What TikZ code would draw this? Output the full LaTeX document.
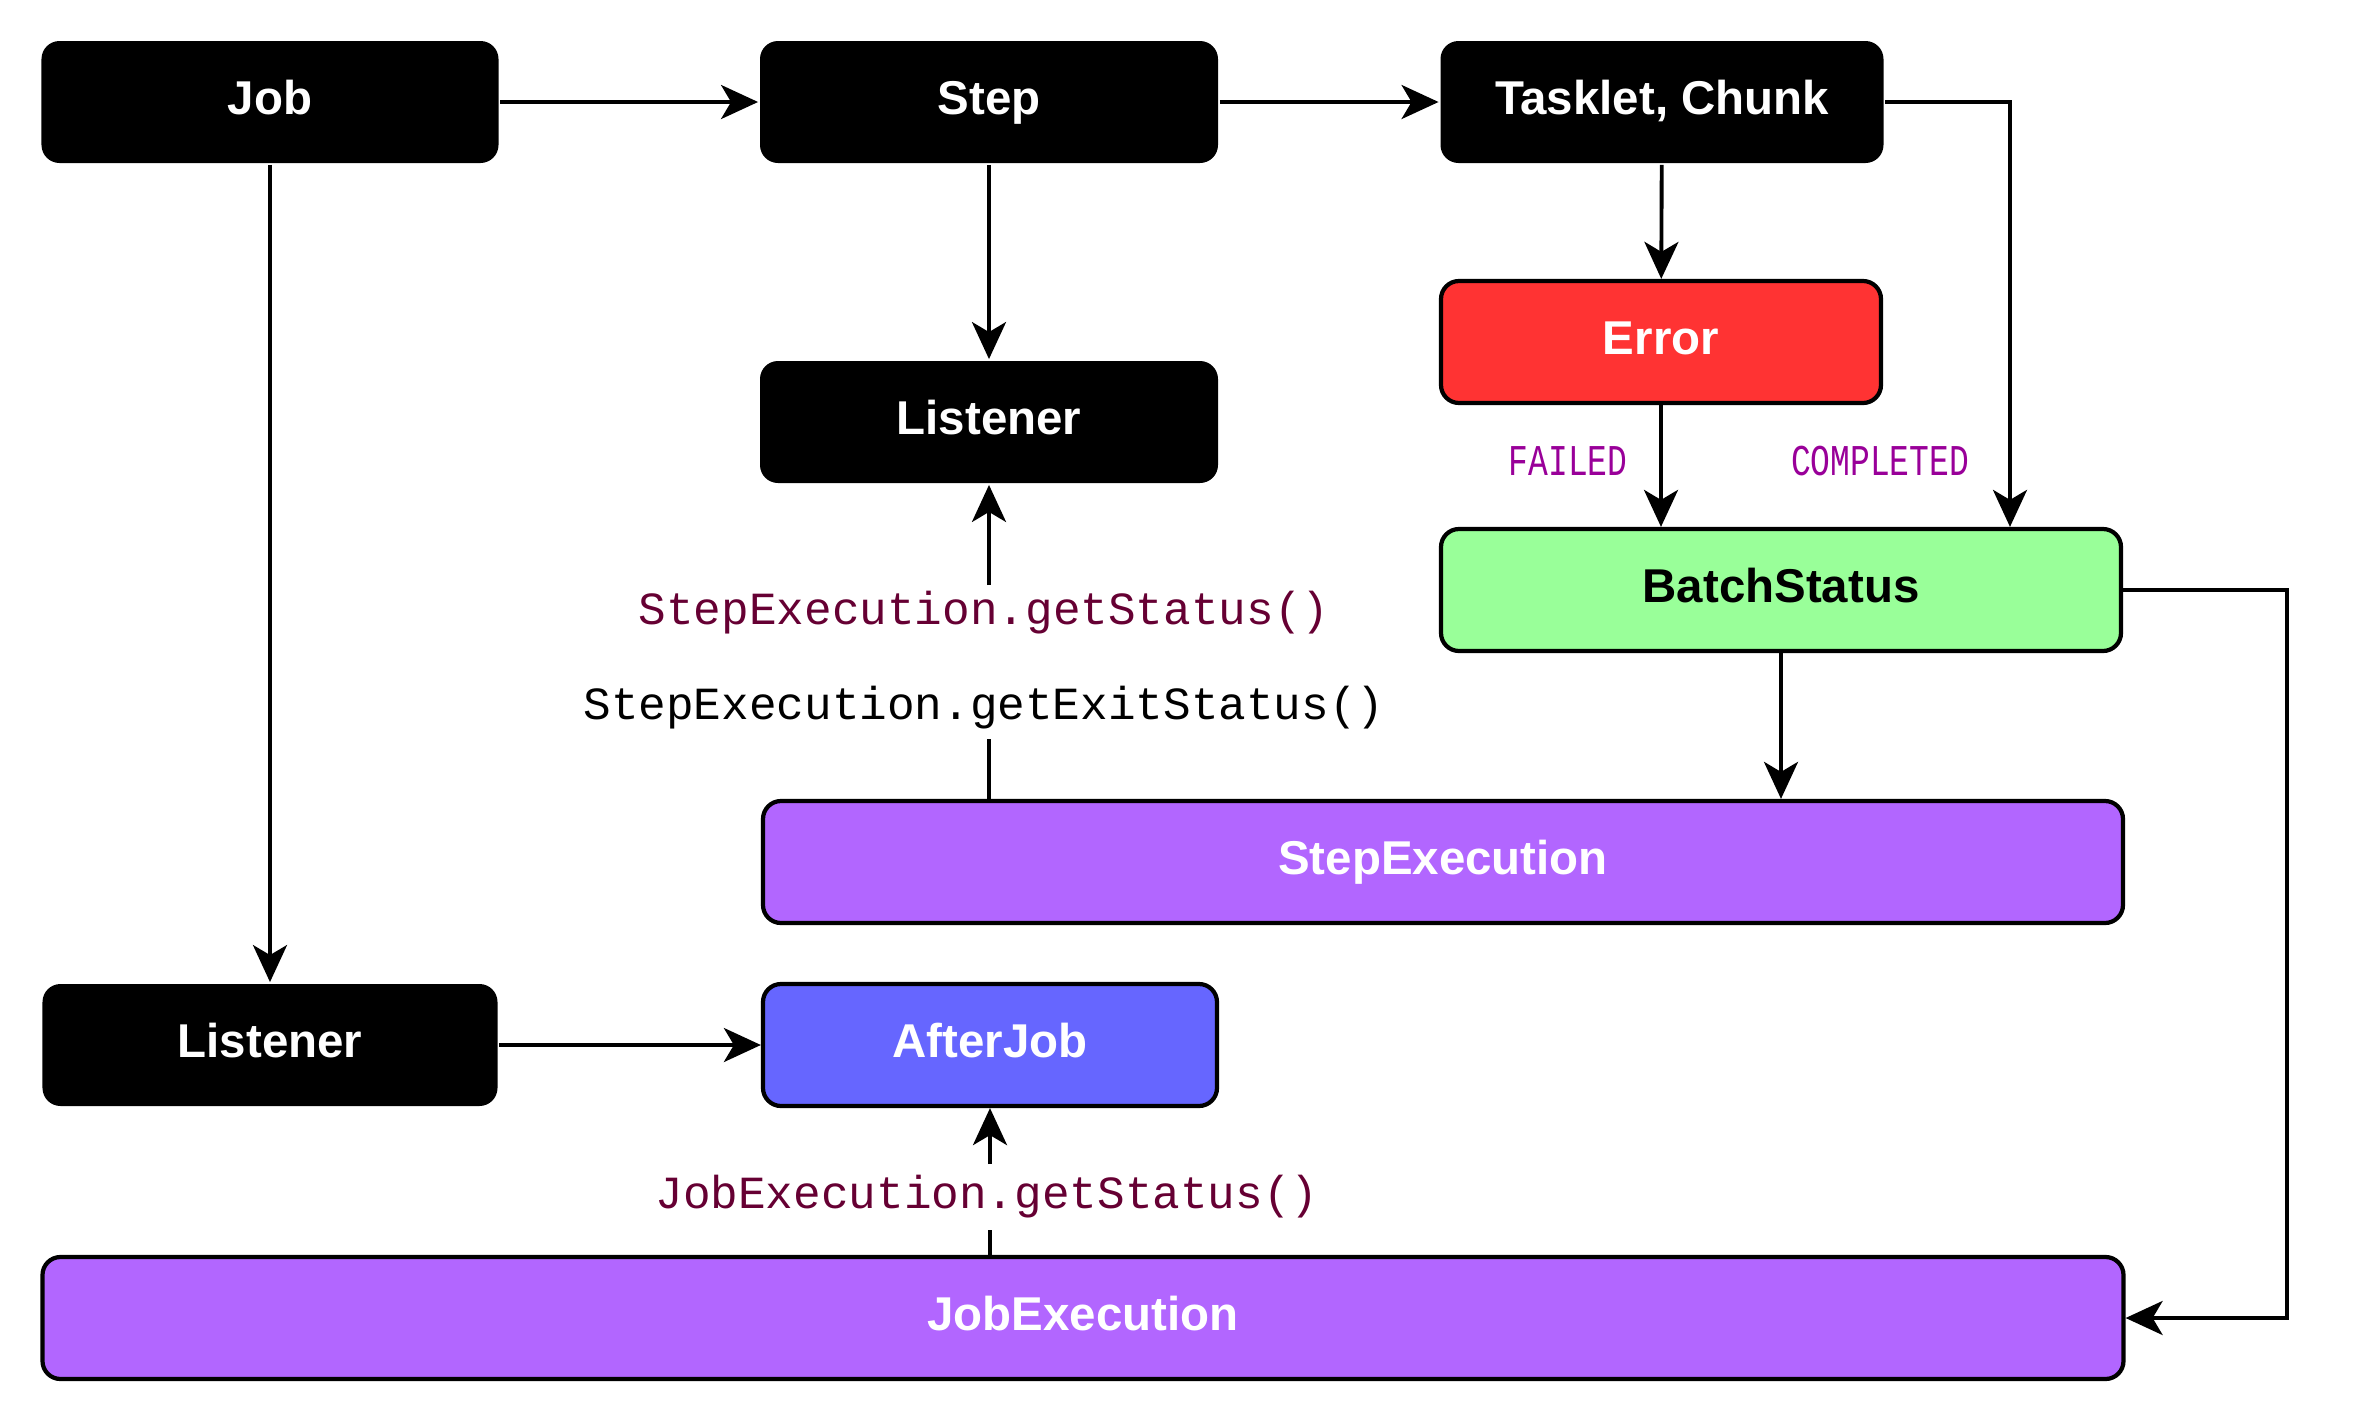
\documentclass[tikz,border=0pt]{standalone}
\usepackage{fontspec}
\setmainfont{Liberation Sans}
\newfontfamily\codefont{Liberation Mono}
\newfontfamily\narrowcode[FakeStretch=0.75]{Liberation Mono}
\usetikzlibrary{arrows.meta}
\definecolor{errred}{HTML}{FF3333}
\definecolor{okgreen}{HTML}{99FF99}
\definecolor{execpurple}{HTML}{B266FF}
\definecolor{jobblue}{HTML}{6666FF}
\definecolor{statred}{HTML}{660033}
\definecolor{flagpurple}{HTML}{990099}
\begin{document}
\begin{tikzpicture}[
	box/.style={rounded corners=.18cm,minimum height=1.22cm,inner sep=0pt,
		text height=.34cm,text depth=.1cm,
		font=\fontsize{13.5}{16}\selectfont\bfseries,text=white},
	blk/.style={box,fill=black},
	col/.style={box,draw=black,line width=1.2pt},
	code/.style={font=\codefont\fontsize{13.1}{15}\selectfont,inner sep=0pt},
	flag/.style={font=\narrowcode\fontsize{12.5}{15}\selectfont,text=flagpurple},
	>={Stealth[length=.37cm,width=.34cm,inset=.1cm]},line width=1.1pt]
	\useasboundingbox (0,0) rectangle (23.6,-14.2);
	\foreach \n/\x/\y/\w/\t in {job/2.70/-1.02/4.57/Job,step/9.89/-1.02/4.58/Step,
		task/16.62/-1.02/4.43/{Tasklet, Chunk},slis/9.89/-4.22/4.58/Listener,
		jlis/2.70/-10.45/4.55/Listener}
		\node[blk,minimum width=\w cm] (\n) at (\x,\y) {\t};
	\node[col,fill=errred,minimum width=4.40cm] (err) at (16.61,-3.42) {Error};
	\node[col,fill=okgreen,text=black,minimum width=6.80cm] (batch) at (17.81,-5.90) {BatchStatus};
	\node[col,fill=execpurple,minimum width=13.60cm] (stepx) at (14.43,-8.62) {StepExecution};
	\node[col,fill=jobblue,minimum width=4.54cm] (after) at (9.90,-10.45) {AfterJob};
	\node[col,fill=execpurple,minimum width=20.81cm] (jobx) at (10.83,-13.18) {JobExecution};
	% status labels
	\node[code,text=statred,minimum height=.52cm] (stlbl) at (9.84,-6.13) {StepExecution.getStatus()};
	\node[code,minimum height=.58cm] (exlbl) at (9.84,-7.08) {StepExecution.getExitStatus()};
	\node[code,text=statred,minimum height=.62cm] (jblbl) at (9.87,-11.97) {JobExecution.getStatus()};
	\node[flag] (fail) at (15.68,-4.61) {FAILED};
	\node[flag] (done) at (18.80,-4.61) {COMPLETED};
	% connectors
	\draw[->] (job) -- (step);
	\draw[->] (step) -- (task);
	\draw[->] (task) -- (err);
	\draw[->] (step) -- (slis);
	\draw[->] (job) -- (jlis);
	\draw[->] (jlis) -- (after);
	\draw[->] (err) -- (err.south |- batch.north);
	\draw[->] (task.east) -| ([xshift=2.29cm]batch.north);
	\draw[->] (batch) -- (batch.south |- stepx.north);
	\draw[->] (batch.east) -- ++(1.64,0) |- (jobx.east);
	\draw (slis.south |- stepx.north) -- (slis.south |- exlbl.south);
	\draw[->] (slis.south |- stlbl.north) -- (slis);
	\draw (after.south |- jobx.north) -- (after.south |- jblbl.south);
	\draw[->] (after.south |- jblbl.north) -- (after);
\end{tikzpicture}
\end{document}
